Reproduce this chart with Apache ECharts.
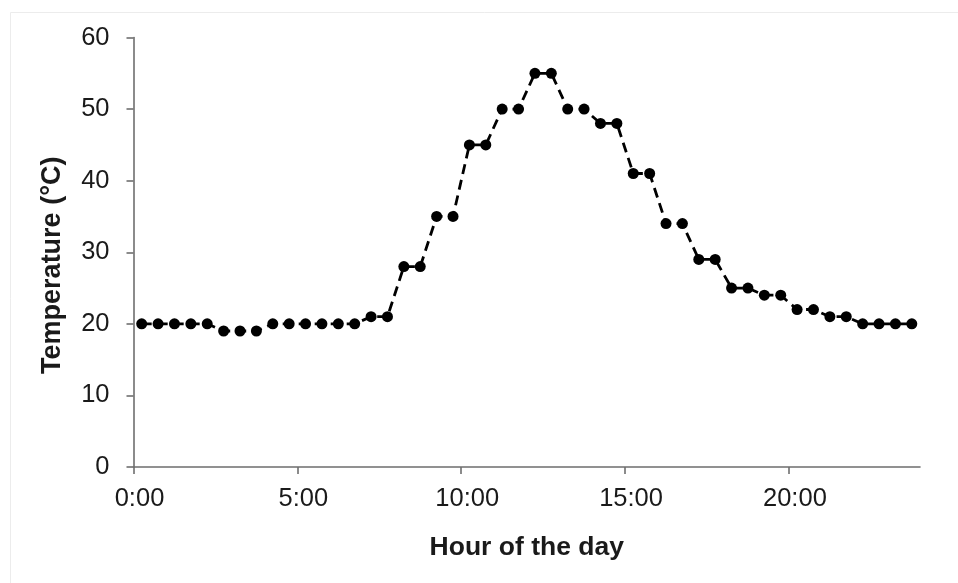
<!DOCTYPE html>
<html>
<head>
<meta charset="utf-8">
<script src="https://cdn.jsdelivr.net/npm/echarts@6/dist/echarts.min.js"></script>
<style>
html,body{margin:0;padding:0;background:#fff;}
#chart{width:958px;height:583px;}
</style>
</head>
<body>
<div id="chart"></div>
<script>
// Hours of the day (decimal hours) for each reading
var hours = [0.25, 0.75, 1.25, 1.75, 2.25, 2.75, 3.25, 3.75, 4.25, 4.75, 5.25, 5.75,
             6.25, 6.75, 7.25, 7.75, 8.25, 8.75, 9.25, 9.75, 10.25, 10.75, 11.25, 11.75,
             12.25, 12.75, 13.25, 13.75, 14.25, 14.75, 15.25, 15.75, 16.25, 16.75, 17.25, 17.75,
             18.25, 18.75, 19.25, 19.75, 20.25, 20.75, 21.25, 21.75, 22.25, 22.75, 23.25, 23.75];
// Temperature (°C)
var temps = [20, 20, 20, 20, 20, 19, 19, 19, 20, 20, 20, 20,
             20, 20, 21, 21, 28, 28, 35, 35, 45, 45, 50, 50,
             55, 55, 50, 50, 48, 48, 41, 41, 34, 34, 29, 29,
             25, 25, 24, 24, 22, 22, 21, 21, 20, 20, 20, 20];
var xTickValues = [0, 5, 10, 15, 20];
var xTickLabels = ['0:00', '5:00', '10:00', '15:00', '20:00'];
var xTitle = 'Hour of the day';
var yTitle = 'Temperature (°C)';

var data = hours.map(function (h, i) { return [h, temps[i]]; });
var font = "'Liberation Sans', Arial, sans-serif";
var axisColor = '#6e6e6e';

var chart = echarts.init(document.getElementById('chart'), null, {renderer: 'canvas'});
chart.setOption({
  backgroundColor: '#ffffff',
  animation: false,
  graphic: [{
    type: 'rect', left: 8, top: 10,
    shape: {width: 960, height: 590},
    style: {fill: 'none', stroke: '#ececec', lineWidth: 1}
  }],
  grid: {left: 133.5, right: 38, top: 37.5, bottom: 116, containLabel: false},
  xAxis: {
    type: 'value', min: 0, max: 24, interval: 5,
    name: xTitle, nameLocation: 'middle', nameGap: 67,
    nameTextStyle: {fontFamily: font, fontSize: 26.5, fontWeight: 'bold', color: '#1a1a1a'},
    axisLine: {show: true, lineStyle: {color: axisColor, width: 1.6}},
    axisTick: {show: true, inside: false, length: 7, customValues: xTickValues, lineStyle: {color: axisColor, width: 1.6}},
    axisLabel: {
      customValues: xTickValues,
      margin: 19, fontFamily: font, fontSize: 25.5, color: '#1a1a1a',
      padding: [0, 0, 0, 12],
      formatter: function (v) { var i = xTickValues.indexOf(v); return i >= 0 ? xTickLabels[i] : ''; }
    },
    splitLine: {show: false}
  },
  yAxis: {
    type: 'value', min: 0, max: 60, interval: 10,
    name: yTitle, nameLocation: 'middle', nameGap: 67,
    nameTextStyle: {fontFamily: font, fontSize: 27, fontWeight: 'bold', color: '#1a1a1a', padding: [0, 26, 0, 0]},
    axisLine: {show: true, lineStyle: {color: axisColor, width: 1.6}},
    axisTick: {show: true, inside: false, length: 7, lineStyle: {color: axisColor, width: 1.6}},
    axisLabel: {margin: 24, fontFamily: font, fontSize: 25.5, color: '#1a1a1a'},
    splitLine: {show: false}
  },
  series: [{
    type: 'line',
    data: data,
    symbol: 'circle',
    symbolSize: 11,
    itemStyle: {color: '#000000'},
    lineStyle: {color: '#000000', width: 2.8, type: [10, 6]},
    z: 3
  }]
});
</script>
</body>
</html>
